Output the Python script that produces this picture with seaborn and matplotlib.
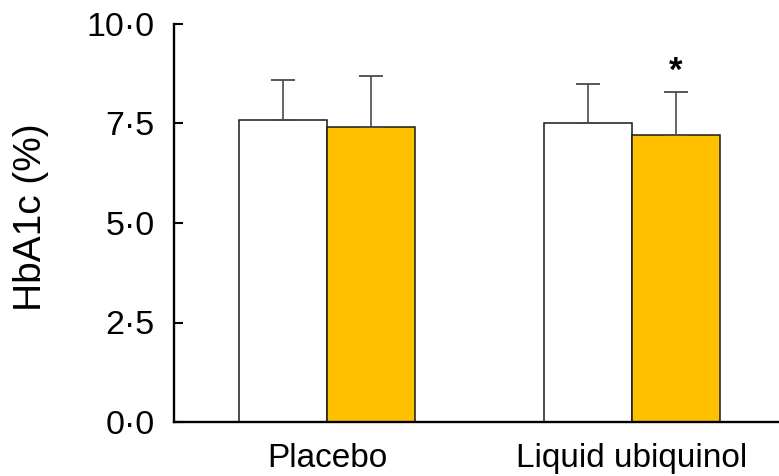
import matplotlib
matplotlib.use("Agg")
import matplotlib.pyplot as plt
import seaborn as sns
import pandas as pd

groups = ["Placebo", "Placebo", "Liquid ubiquinol", "Liquid ubiquinol"]
timepoints = ["Baseline", "Post", "Baseline", "Post"]
means = [7.6, 7.4, 7.5, 7.2]
sds = [1.0, 1.3, 1.0, 1.1]
yticks = [0.0, 2.5, 5.0, 7.5, 10.0]
ytick_labels = ["0·0", "2·5", "5·0", "7·5", "10·0"]
categories = ["Placebo", "Liquid ubiquinol"]
hue_levels = ["Baseline", "Post"]
bar_colors = ["#FFFFFF", "#FFC000"]

df = pd.DataFrame({"group": groups, "time": timepoints, "mean": means, "sd": sds})

sns.set_style("white")
plt.rcParams["font.family"] = ["Liberation Sans", "DejaVu Sans"]
plt.rcParams["text.color"] = "black"
plt.rcParams["xtick.color"] = "black"
plt.rcParams["ytick.color"] = "black"

fig = plt.figure(figsize=(7.79, 4.76), dpi=100)
ax = fig.add_axes([174 / 779, 1 - 422 / 476, 605 / 779, 398 / 476])

sns.barplot(data=df, x="group", y="mean", hue="time", order=categories,
            hue_order=hue_levels, palette=bar_colors, errorbar=None,
            width=0.577, edgecolor="#1a1a1a", linewidth=1.1, legend=False,
            saturation=1, ax=ax)

# error bars (upward only) from bar geometry
for cont, lvl in zip(ax.containers, hue_levels):
    sub = df[df["time"] == lvl].set_index("group").loc[categories]
    for patch, (_, row) in zip(cont.patches, sub.iterrows()):
        xc = patch.get_x() + patch.get_width() / 2
        ax.errorbar(xc, row["mean"], yerr=[[0], [row["sd"]]], fmt="none",
                    ecolor="#4a4a4a", elinewidth=1.2, capsize=8.5,
                    capthick=1.3, zorder=1)

# significance marker
last = ax.containers[1].patches[1]
ax.text(last.get_x() + last.get_width() / 2, 8.82, "*", ha="center",
        va="center", fontsize=25, fontweight="bold", color="black")

ax.set_ylim(0, 10)
ax.set_xlim(-0.502, 1.482)
ax.set_yticks(yticks)
ax.set_yticklabels(ytick_labels)
ax.set_xticks([0, 1])
ax.set_xticklabels(categories)
ax.set_xticks([0.5], minor=True)
ax.tick_params(axis="x", which="major", length=0, pad=15, labelsize=24,
               labelcolor="black")
ax.tick_params(axis="x", which="minor", direction="in", length=4, width=1.5,
               color="black")
ax.tick_params(axis="y", direction="in", length=6.5, width=1.5,
               color="black", pad=14, labelsize=24.5, left=True,
               labelcolor="black")
ax.set_xlabel("")
ax.set_ylabel("")

for s in ["top", "right"]:
    ax.spines[s].set_visible(False)
for s in ["left", "bottom"]:
    ax.spines[s].set_linewidth(1.7)
    ax.spines[s].set_color("black")

fig.text(31 / 779, 1 - 217 / 476, "HbA1c (%)", rotation=90, ha="center",
         va="center", fontsize=28, color="black")

fig.savefig("out.png", dpi=100)
